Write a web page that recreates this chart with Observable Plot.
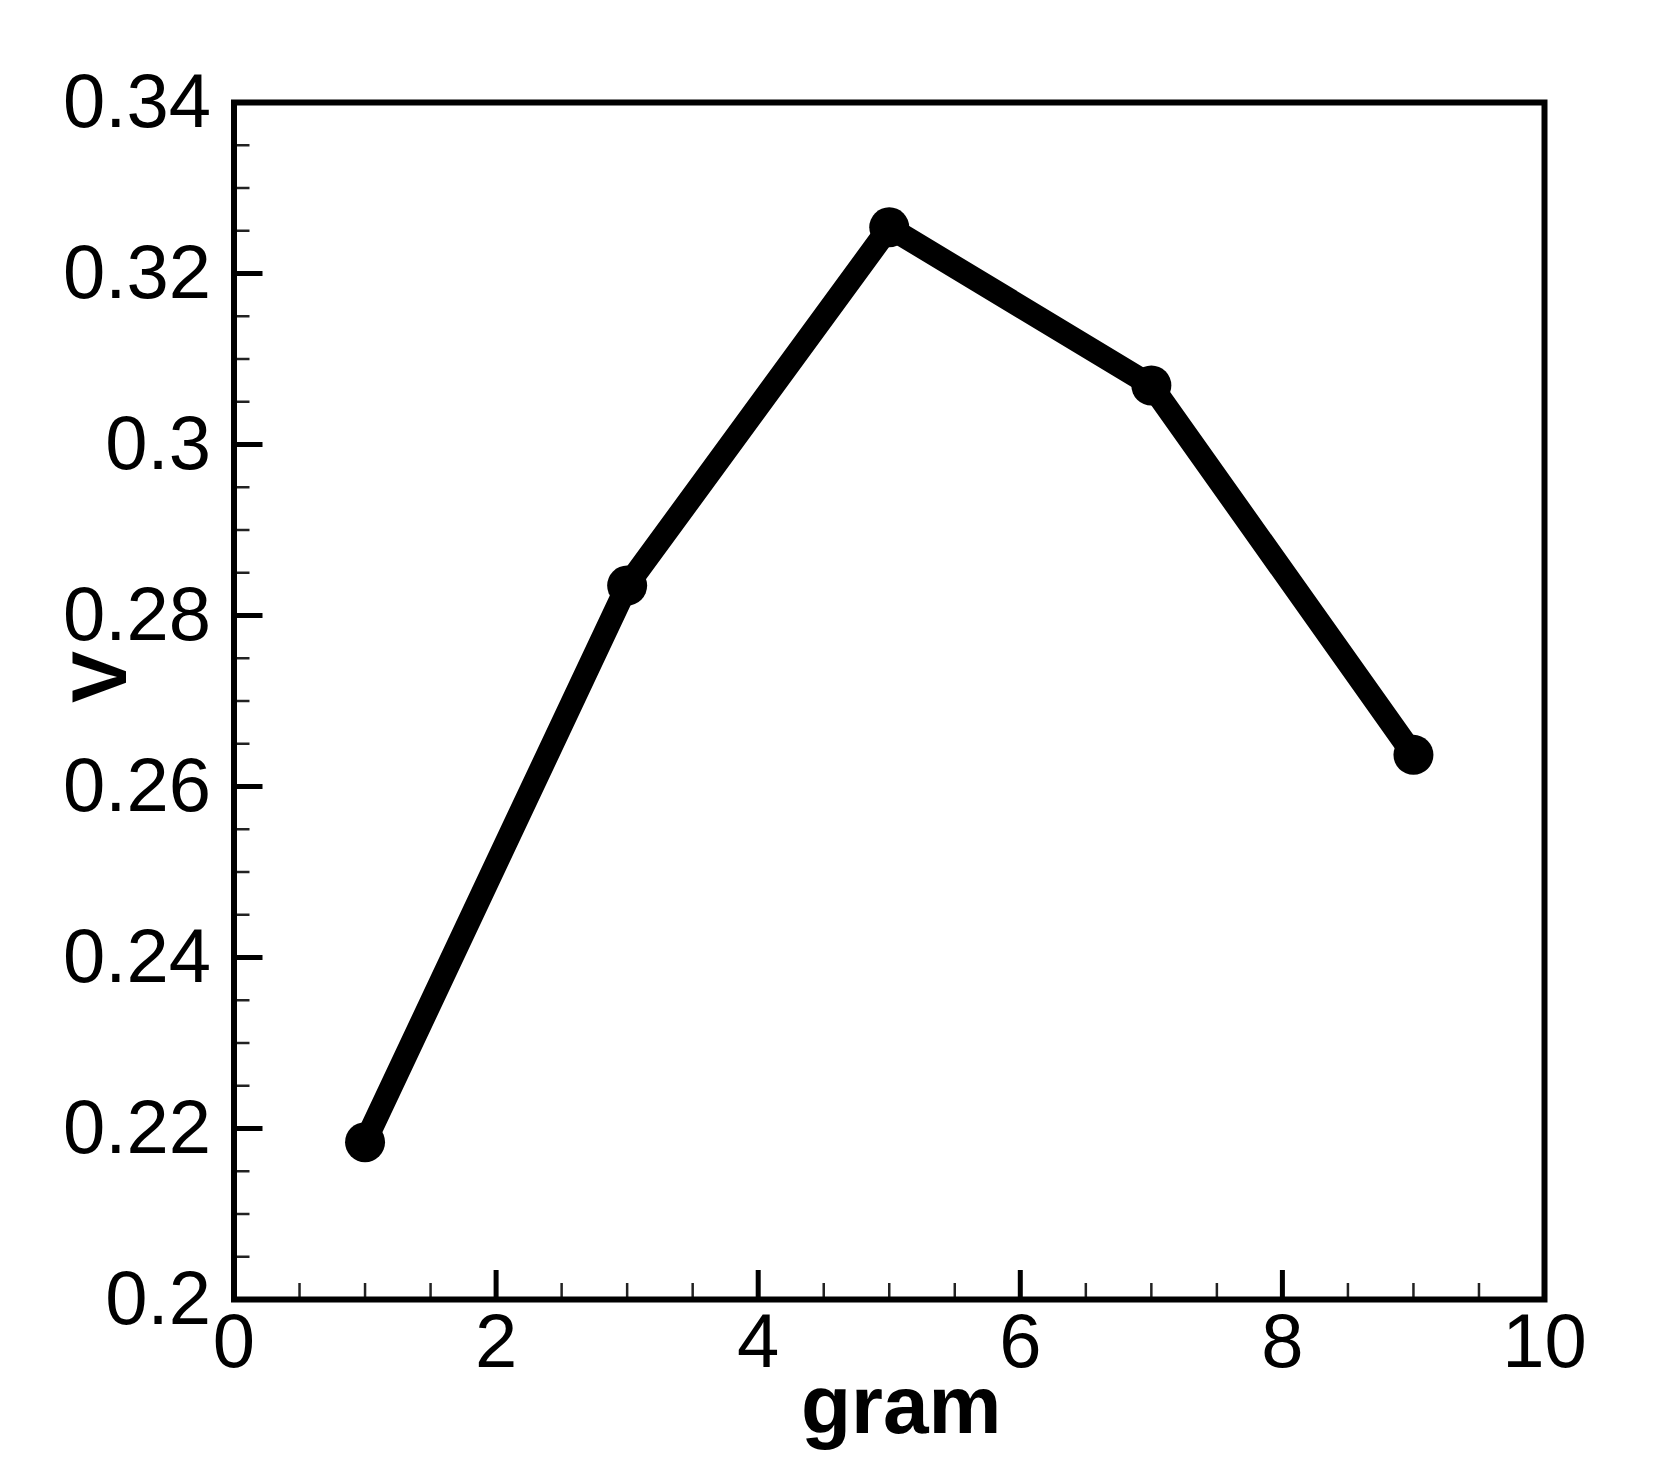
<!DOCTYPE html>
<html><head><meta charset="utf-8">
<script src="https://cdn.jsdelivr.net/npm/d3@7"></script>
<script src="https://cdn.jsdelivr.net/npm/@observablehq/plot@0.6"></script>
<style>html,body{margin:0;padding:0;background:#fff;}</style>
</head><body><div id="chart"></div>
<script>
const grams = [1, 3, 5, 7, 9];
const vValues = [0.2184, 0.2835, 0.3254, 0.3069, 0.2637];
const xTicks = [0, 2, 4, 6, 8, 10];
const xTickLabels = ["0", "2", "4", "6", "8", "10"];
const yTicks = [0.2, 0.22, 0.24, 0.26, 0.28, 0.3, 0.32, 0.34];
const yTickLabels = ["0.2", "0.22", "0.24", "0.26", "0.28", "0.3", "0.32", "0.34"];
const xMinorTicks = [0.5, 1, 1.5, 2.5, 3, 3.5, 4.5, 5, 5.5, 6.5, 7, 7.5, 8.5, 9, 9.5];
const yMinorTicks = [0.205, 0.21, 0.215, 0.225, 0.23, 0.235, 0.245, 0.25, 0.255, 0.265, 0.27, 0.275,
  0.285, 0.29, 0.295, 0.305, 0.31, 0.315, 0.325, 0.33, 0.335];
const xLabel = "gram";
const yLabel = "V";

const points = grams.map((g, i) => ({gram: g, v: vValues[i]}));
const font = "Liberation Sans, Arial, Helvetica, sans-serif";

const chart = Plot.plot({
  width: 1654,
  height: 1484,
  marginLeft: 233.5,
  marginRight: 110,
  marginTop: 102,
  marginBottom: 185,
  style: {fontFamily: font, background: "white", color: "black", overflow: "visible"},
  x: {domain: [0, 10]},
  y: {domain: [0.2, 0.34]},
  marks: [
    // minor ticks (inward)
    Plot.axisX({ticks: xMinorTicks, anchor: "bottom", tickSize: 16, dy: -16, fill: "none", stroke: "#222", strokeWidth: 2.5, label: null}),
    Plot.axisY({ticks: yMinorTicks, anchor: "left", tickSize: 16, dx: 16, fill: "none", stroke: "#222", strokeWidth: 2.5, label: null}),
    // major ticks (inward)
    Plot.axisX({ticks: xTicks, anchor: "bottom", tickSize: 29, dy: -29, fill: "none", stroke: "black", strokeWidth: 5, label: null}),
    Plot.axisY({ticks: yTicks, anchor: "left", tickSize: 29, dx: 29, fill: "none", stroke: "black", strokeWidth: 5, label: null}),
    // tick labels
    Plot.axisX({ticks: xTicks, anchor: "bottom", tickSize: 0, tickPadding: 14, fontSize: 76, fill: "black",
      tickFormat: d => xTickLabels[xTicks.indexOf(d)], label: null}),
    Plot.axisY({ticks: yTicks, anchor: "left", tickSize: 0, tickPadding: 23, fontSize: 76, fill: "black",
      tickFormat: d => yTickLabels[yTicks.indexOf(d)], label: null}),
    Plot.frame({stroke: "black", strokeWidth: 6}),
    Plot.line(points, {x: "gram", y: "v", stroke: "black", strokeWidth: 23, strokeLinejoin: "round", strokeLinecap: "round"}),
    Plot.dot(points, {x: "gram", y: "v", r: 20, fill: "black", stroke: null}),
    Plot.text([xLabel], {text: d => d, frameAnchor: "bottom", lineAnchor: "bottom", dx: 12, dy: 133,
      fontSize: 82, fontWeight: "bold", fill: "black"}),
    Plot.text([yLabel], {text: d => d, frameAnchor: "left", lineAnchor: "middle", rotate: -90, dx: -133, dy: 2,
      fontSize: 78, fontWeight: "bold", fill: "black"})
  ]
});
document.getElementById("chart").appendChild(chart);
</script>
</body></html>
